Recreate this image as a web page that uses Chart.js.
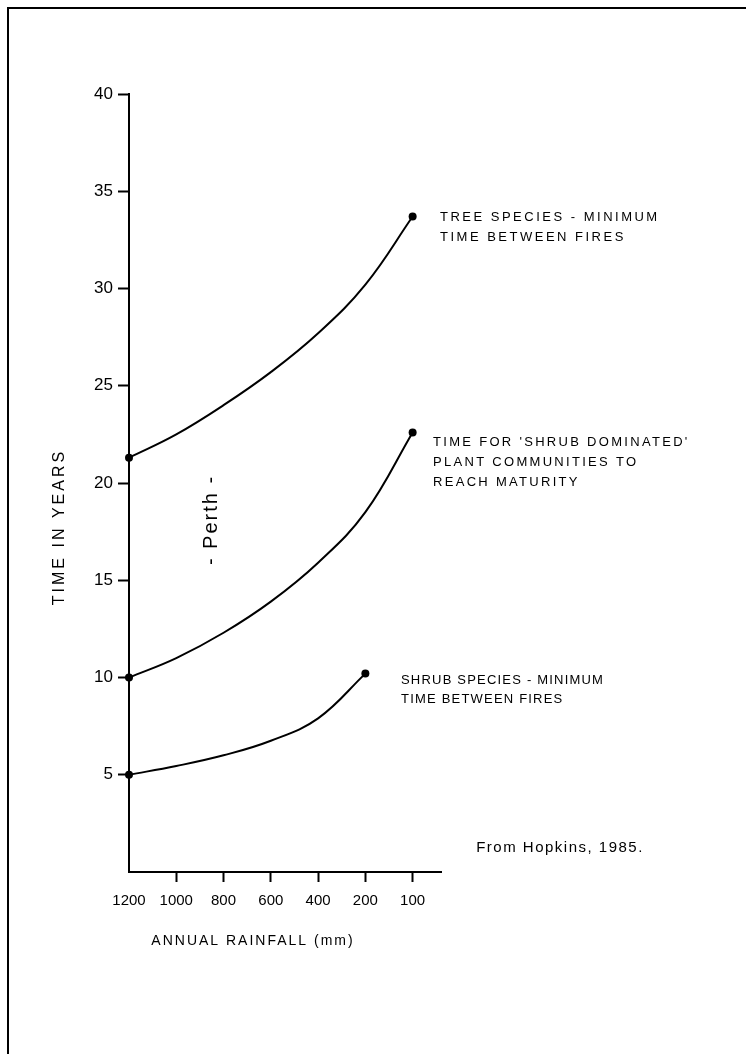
<!DOCTYPE html>
<html lang="en">
<head>
<meta charset="UTF-8">
<title>Time between fires vs annual rainfall</title>
<script src="https://cdn.jsdelivr.net/npm/chart.js"></script>
<style>
  html, body {margin: 0; padding: 0; background: #fff;}
  canvas {display: block;}
</style>
</head>
<body>
<canvas id="chart" width="746" height="1054"></canvas>
<script>
  // rainfall ticks are evenly spaced on the drawing, so x is the tick index
  const rainfallTicks = [1200, 1000, 800, 600, 400, 200, 100];
  const yearTicks = [5, 10, 15, 20, 25, 30, 35, 40];

  // years at each rainfall tick
  const treeSpecies    = [21.3, 22.5, 24.0, 25.7, 27.7, 30.2, 33.7];
  const shrubDominated = [10.0, 11.0, 12.3, 13.9, 15.9, 18.5, 22.6];
  const shrubSpecies   = [5.0, 5.45, 6.0, 6.75, 7.9, 10.2, null];

  const FONT = "'Liberation Sans', Arial, sans-serif";

  function toPoints(values) {
    const pts = [];
    values.forEach((v, i) => { if (v !== null) pts.push({x: i, y: v}); });
    return pts;
  }
  function endDots(values) {
    const kept = values.filter(v => v !== null);
    return kept.map((v, i) => (i === 0 || i === kept.length - 1) ? 4 : 0);
  }
  function series(values) {
    return {
      data: toPoints(values),
      borderColor: '#000',
      borderWidth: 2,
      backgroundColor: '#000',
      pointBackgroundColor: '#000',
      pointBorderWidth: 0,
      pointRadius: endDots(values),
      tension: 0.4,
      fill: false,
      clip: false
    };
  }

  function txt(ctx, s, x, y, size, opts) {
    opts = opts || {};
    ctx.save();
    ctx.font = (opts.weight || 'normal') + ' ' + size + 'px ' + FONT;
    ctx.fillStyle = '#000';
    ctx.letterSpacing = (opts.spacing || 0) + 'px';
    ctx.textAlign = opts.align || 'left';
    ctx.textBaseline = 'middle';
    ctx.translate(x, y);
    if (opts.rotate) ctx.rotate(opts.rotate);
    ctx.fillText(s, 0, 0);
    ctx.restore();
  }

  const decorations = {
    id: 'decorations',
    afterDraw(chart) {
      const ctx = chart.ctx;
      // frame (left and top edges of the page)
      ctx.save();
      ctx.strokeStyle = '#000';
      ctx.lineWidth = 2;
      ctx.beginPath();
      ctx.moveTo(8, 1054); ctx.lineTo(8, 8); ctx.lineTo(746, 8);
      ctx.stroke();
      ctx.restore();

      // axis titles
      txt(ctx, 'TIME IN YEARS', 60, 527, 16, {align: 'center', rotate: -Math.PI / 2, spacing: 3});
      txt(ctx, 'ANNUAL RAINFALL (mm)', 253, 941, 14, {align: 'center', spacing: 2});

      // notes beside the curves
      txt(ctx, 'TREE SPECIES - MINIMUM', 440, 217, 13, {spacing: 2.5});
      txt(ctx, 'TIME BETWEEN FIRES', 440, 237, 13, {spacing: 2.5});

      txt(ctx, "TIME FOR 'SHRUB DOMINATED'", 433, 442, 13, {spacing: 2.3});
      txt(ctx, 'PLANT COMMUNITIES TO', 433, 462, 13, {spacing: 2.3});
      txt(ctx, 'REACH MATURITY', 433, 482, 13, {spacing: 2.3});

      txt(ctx, 'SHRUB SPECIES - MINIMUM', 401, 680, 13, {spacing: 1.2});
      txt(ctx, 'TIME BETWEEN FIRES', 401, 699, 13, {spacing: 1.2});

      txt(ctx, '- Perth -', 211, 520, 20, {align: 'center', rotate: -Math.PI / 2, spacing: 2});
      txt(ctx, 'From Hopkins, 1985.', 560, 848, 15, {align: 'center', spacing: 1.5});
    }
  };

  new Chart(document.getElementById('chart'), {
    type: 'line',
    data: {
      datasets: [series(treeSpecies), series(shrubDominated), series(shrubSpecies)]
    },
    options: {
      responsive: false,
      animation: false,
      layout: { padding: { top: 94, right: 305, bottom: 0, left: 0 } },
      plugins: { legend: { display: false }, tooltip: { enabled: false } },
      scales: {
        x: {
          type: 'linear',
          min: 0,
          max: 6.6,
          afterBuildTicks: scale => { scale.ticks = rainfallTicks.map((_, i) => ({value: i})); },
          afterFit: scale => { scale.height = 182; },
          border: { display: true, color: '#000', width: 2 },
          grid: {
            drawOnChartArea: false,
            drawTicks: true,
            tickLength: 10,
            tickWidth: 2,
            tickColor: c => (c.tick && c.tick.value === 0) ? 'rgba(0,0,0,0)' : '#000'
          },
          ticks: {
            autoSkip: false,
            maxRotation: 0,
            padding: 10,
            color: '#000',
            font: { family: FONT, size: 15 },
            callback: v => rainfallTicks[v]
          }
        },
        y: {
          min: 0,
          max: 40,
          afterBuildTicks: scale => { scale.ticks = yearTicks.map(v => ({value: v})); },
          afterFit: scale => { scale.width = 129; },
          border: { display: true, color: '#000', width: 2 },
          grid: {
            drawOnChartArea: false,
            drawTicks: true,
            tickLength: 11,
            tickWidth: 2,
            tickColor: '#000'
          },
          ticks: {
            padding: 5,
            color: '#000',
            font: { family: FONT, size: 17 }
          }
        }
      }
    },
    plugins: [decorations]
  });
</script>
</body>
</html>
